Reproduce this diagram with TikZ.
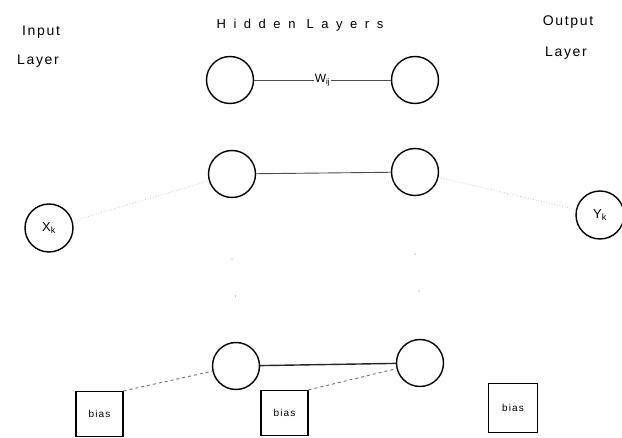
\documentclass[tikz,border=0pt]{standalone}
\usepackage{fontspec}
\setmainfont{Liberation Sans}
\begin{document}
\begin{tikzpicture}[x=1pt,y=-1pt,
  neuron/.style={circle,draw,line width=1.4pt,minimum size=47pt,inner sep=0pt},
  io/.style={circle,draw,line width=1.4pt,minimum size=48pt,inner sep=0pt,font=\fontsize{13}{15}\selectfont},
  biasbox/.style={draw,line width=1.3pt,minimum width=47pt,minimum height=45pt,inner sep=0pt,font=\fontsize{10}{11}\selectfont\addfontfeature{LetterSpace=12}},
  lbl/.style={font=\fontsize{14}{16}\selectfont\addfontfeature{LetterSpace=12}},
  hlbl/.style={font=\fontsize{13}{15}\selectfont\addfontfeature{LetterSpace=58}},
  wire/.style={line width=0.9pt,draw=black!70},
  thickwire/.style={line width=1.4pt,draw=black!85},
  dashwire/.style={dashed,line width=0.9pt,draw=black!55},
  faint/.style={dotted,draw=black!25,line width=0.7pt},
  vdots/.style={draw=black!25,line width=0.8pt,dash pattern=on 2pt off 35pt}]
\useasboundingbox (0,0) rectangle (622,438);
\fill[white] (0,0) rectangle (622,438);

% labels
\node[lbl] (in1) at (41,32) {Input};
\node[lbl] (in2) at (38,61) {Layer};
\node[hlbl] (hid) at (300,25) {Hidden Layers};
\node[lbl] (out1) at (568,22) {Output};
\node[lbl] (out2) at (566,53) {Layer};

% neurons
\node[neuron] (h11) at (230,80) {};
\node[neuron] (h12) at (415,80) {};
\node[neuron] (h21) at (232,174) {};
\node[neuron] (h22) at (415,172) {};
\node[neuron] (h31) at (236,366) {};
\node[neuron] (h32) at (420,363) {};
\node[io] (x) at (49,228) {X\textsubscript{k}};
\node[io] (y) at (600,215) {Y\textsubscript{k}};

% bias boxes
\node[biasbox] (b1) at (99.5,414) {bias};
\node[biasbox] (b2) at (284.5,413) {bias};
\node[biasbox,minimum width=49pt,minimum height=49pt] (b3) at (513,408) {bias};

% connections
\draw[wire] (h11) -- node[fill=white,inner sep=1pt,font=\fontsize{12}{14}\selectfont] (w) {W\textsubscript{ij}} (h12);
\draw[wire] (h21) -- (h22);
\draw[thickwire] (h31) -- (h32);
\draw[dashwire] (b1.north east) -- (h31);
\draw[dashwire] (b2.north east) -- (h32);
\draw[faint] (x) -- (h21);
\draw[faint] (h22) -- (y);
\draw[vdots] ([yshift=-60pt]h21.south) -- ([yshift=40pt]h31.north);
\draw[vdots] ([yshift=-57pt]h22.south) -- ([yshift=40pt]h32.north);
\end{tikzpicture}
\end{document}
